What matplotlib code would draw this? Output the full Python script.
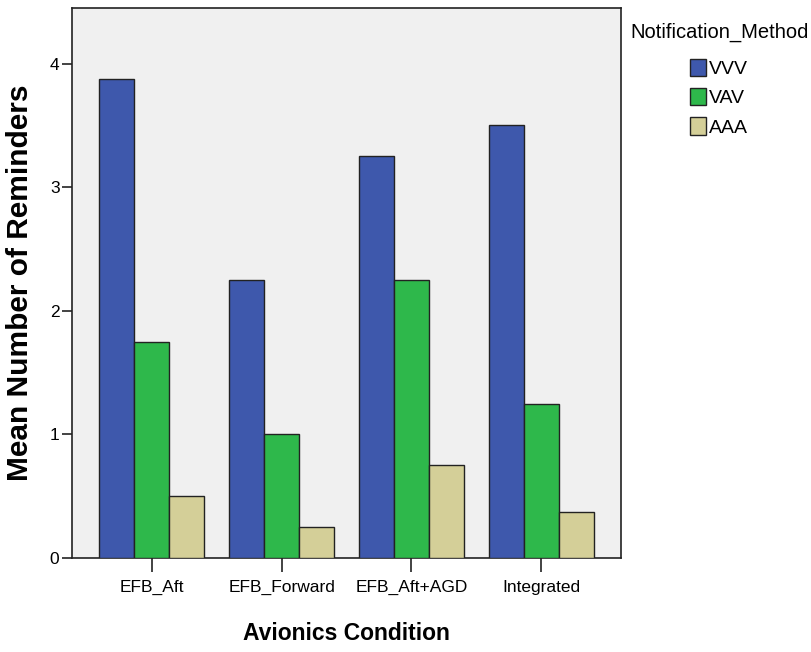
import numpy as np
import matplotlib
matplotlib.use("Agg")
import matplotlib.pyplot as plt
from matplotlib.patches import Patch

# -----------------------------
# DATA
# -----------------------------
CONDITIONS = ["EFB_Aft", "EFB_Forward", "EFB_Aft+AGD", "Integrated"]
METHODS = ["VVV", "VAV", "AAA"]
VVV = [3.875, 2.25, 3.25, 3.5]
VAV = [1.75, 1.0, 2.25, 1.25]
AAA = [0.5, 0.25, 0.75, 0.375]
COLORS = ["#3E58AC", "#2EB84B", "#D4CF98"]

FONT = ["Liberation Sans", "DejaVu Sans"]

fig = plt.figure(figsize=(8.12, 6.52), dpi=100)
ax = fig.add_axes([72 / 812, 1 - 558 / 652, (621 - 72) / 812, (558 - 8) / 652])
ax.set_facecolor("#F0F0F0")

x = np.arange(len(CONDITIONS))
w = 0.27
for i, (vals, c) in enumerate(zip([VVV, VAV, AAA], COLORS)):
    ax.bar(x + (i - 1) * w, vals, width=w, color=c, edgecolor="#222222",
           linewidth=1.0, zorder=3)

ax.set_xlim(-0.615, 3.615)
ax.set_ylim(0, 4.45)
ax.set_yticks([0, 1, 2, 3, 4])
ax.set_yticklabels(["0", "1", "2", "3", "4"], family=FONT, fontsize=12.5)
ax.set_xticks(x)
ax.set_xticklabels(CONDITIONS, family=FONT, fontsize=12.5)
ax.tick_params(axis="x", length=10, width=1.2, color="#222222", pad=6)
ax.tick_params(axis="y", length=7, width=1.2, color="#222222", pad=2)

for s in ax.spines.values():
    s.set_color("#222222")
    s.set_linewidth(1.2)

ax.set_ylabel("Mean Number of Reminders", family=FONT, fontweight="bold",
              fontsize=21.5)
ax.yaxis.set_label_coords(-38 / 549, 0.5)
ax.set_xlabel("Avionics Condition", family=FONT, fontweight="bold",
              fontsize=16.5)
ax.xaxis.set_label_coords(0.5, -64 / 550)

handles = [Patch(facecolor=c, edgecolor="#222222", label=m)
           for m, c in zip(METHODS, COLORS)]
fig.text(630 / 812, 1 - 32 / 652, "Notification_Method", family=FONT,
         fontsize=14.5, va="center", ha="left")
leg = fig.legend(handles=handles, loc="upper left",
                 bbox_to_anchor=(690 / 812, 1 - 59 / 652), frameon=False,
                 prop={"family": FONT, "size": 14}, handlelength=0.82,
                 handleheight=1.0, handletextpad=0.15, labelspacing=0.5,
                 borderaxespad=0, borderpad=0)

fig.savefig("out.png", dpi=100)
